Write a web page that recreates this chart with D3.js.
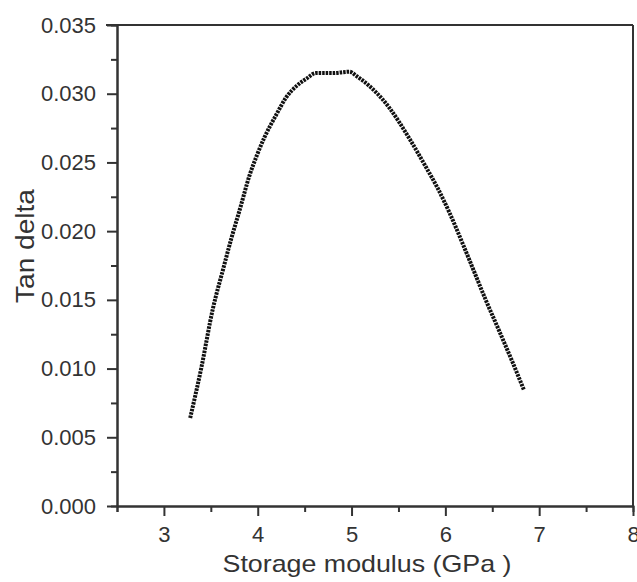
<!DOCTYPE html>
<html>
<head>
<meta charset="utf-8">
<script src="https://cdn.jsdelivr.net/npm/d3@7"></script>
<style>
    body { margin: 0; background: #fff; }
    .axis path, .axis line { stroke: #333; stroke-width: 2; }
    .axis text { font-family: "Liberation Sans", Arial, sans-serif; font-size: 22px; fill: #333; }
    .title { font-family: "Liberation Sans", Arial, sans-serif; font-size: 24px; fill: #333; }
</style>
</head>
<body>
<div id="chart"></div>
<script>
// Storage modulus (GPa)
var modulus = [3.28, 3.40, 3.52, 3.63, 3.72, 3.81, 3.91, 3.99, 4.07, 4.20, 4.30, 4.42, 4.52, 4.62,
    4.80, 4.98, 5.05, 5.20, 5.33, 5.40, 5.62, 5.79, 5.92, 6.04, 6.19, 6.31, 6.43, 6.57, 6.72, 6.84];
// Tan delta at each point
var tanDelta = [0.0064, 0.0101, 0.0143, 0.0172, 0.0195, 0.0216, 0.0240, 0.0255, 0.0268, 0.0285, 0.0297, 0.0306, 0.0311, 0.0315,
    0.0315, 0.0316, 0.0313, 0.0305, 0.0296, 0.0290, 0.0267, 0.0247, 0.0231, 0.0214, 0.0190, 0.0170, 0.0150, 0.0128, 0.0104, 0.0084];

var xTicks = [3, 4, 5, 6, 7, 8];
var xMinor = [2.5, 3.5, 4.5, 5.5, 6.5, 7.5];
var yTicks = [0, 0.005, 0.010, 0.015, 0.020, 0.025, 0.030, 0.035];
var yMinor = [0.0025, 0.0075, 0.0125, 0.0175, 0.0225, 0.0275, 0.0325];

var margin = { top: 25, right: 4, bottom: 76, left: 117 };
var width = 637 - margin.left - margin.right;
var height = 582 - margin.top - margin.bottom;

var svg = d3.select("#chart").append("svg")
    .attr("width", 637)
    .attr("height", 582);
var g = svg.append("g")
    .attr("transform", "translate(" + margin.left + "," + margin.top + ")");

var x = d3.scaleLinear().domain([2.5, 8]).range([0, width]);
var y = d3.scaleLinear().domain([0, 0.035]).range([height, 0]);

// frame: top and right
g.append("line").attr("x1", -11).attr("x2", width).attr("y1", 0).attr("y2", 0)
    .attr("stroke", "#333").attr("stroke-width", 2);
g.append("line").attr("x1", width).attr("x2", width).attr("y1", 0).attr("y2", height)
    .attr("stroke", "#333").attr("stroke-width", 2);

// minor ticks
g.append("g").attr("class", "axis")
    .attr("transform", "translate(0," + height + ")")
    .call(d3.axisBottom(x).tickValues(xMinor).tickSize(6).tickFormat(""));
g.append("g").attr("class", "axis")
    .call(d3.axisLeft(y).tickValues(yMinor).tickSize(6).tickFormat(""));

// major axes
g.append("g").attr("class", "axis")
    .attr("transform", "translate(0," + height + ")")
    .call(d3.axisBottom(x).tickValues(xTicks).tickSize(10).tickSizeOuter(0).tickPadding(10).tickFormat(d3.format("d")));
g.append("g").attr("class", "axis")
    .call(d3.axisLeft(y).tickValues(yTicks).tickSize(10).tickSizeOuter(0).tickPadding(11).tickFormat(d3.format(".3f")));

// curve
var pts = modulus.map(function(d, i) { return [d, tanDelta[i]]; });
var line = d3.line()
    .curve(d3.curveMonotoneX)
    .x(function(d) { return x(d[0]); })
    .y(function(d) { return y(d[1]); });
g.append("path")
    .datum(pts)
    .attr("d", line)
    .attr("fill", "none")
    .attr("stroke", "#111")
    .attr("stroke-width", 4)
    .attr("stroke-dasharray", "2.5,1");

// titles
svg.append("text")
    .attr("class", "title")
    .attr("x", 367)
    .attr("y", 572)
    .attr("text-anchor", "middle")
    .attr("textLength", 289)
    .attr("lengthAdjust", "spacingAndGlyphs")
    .text("Storage modulus (GPa )");
svg.append("text")
    .attr("class", "title")
    .attr("transform", "translate(34,246) rotate(-90)")
    .attr("text-anchor", "middle")
    .style("font-size", "26px")
    .attr("textLength", 114)
    .attr("lengthAdjust", "spacingAndGlyphs")
    .text("Tan delta");
</script>
</body>
</html>
